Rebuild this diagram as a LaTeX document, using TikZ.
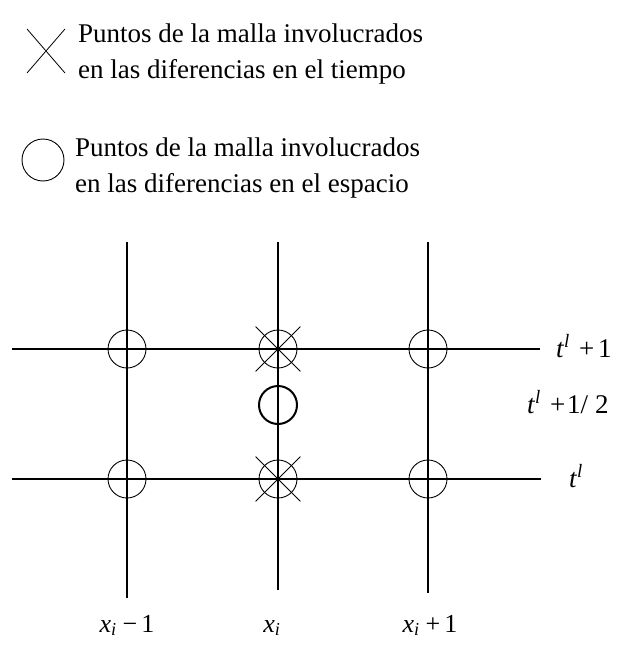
\documentclass[tikz,border=0pt]{standalone}
\usepackage{fontspec}
\setmainfont{Liberation Serif}
\usetikzlibrary{shapes.misc}
\begin{document}
\begin{tikzpicture}[x=1pt,y=-1pt,
  grid/.style={line width=1.4pt},
  pt/.style={circle,draw,line width=0.9pt,minimum size=38pt,inner sep=0pt},
  ptthick/.style={circle,draw,line width=2pt,minimum size=38pt,inner sep=0pt},
  xmark/.style={cross out,draw,line width=0.8pt,minimum size=44pt,inner sep=0pt},
  legtext/.style={anchor=west,align=left,font=\fontsize{27}{36}\selectfont,inner sep=0pt},
  lab/.style={font=\fontsize{26}{30}\selectfont,inner sep=0pt},
  rlab/.style={font=\fontsize{27}{30}\selectfont,inner sep=0pt,anchor=base west}]
\useasboundingbox (0,0) rectangle (619,645);
% legend
\node[cross out,draw,line width=0.8pt,minimum width=37pt,minimum height=43pt,inner sep=0pt] (legx) at (46,51) {};
\node[legtext] (legxt) at (78,54) {Puntos de la malla involucrados\\en las diferencias en el tiempo};
\node[circle,draw,line width=0.9pt,minimum size=42pt,inner sep=0pt] (lego) at (43,160) {};
\node[legtext] (legot) at (75,168) {Puntos de la malla involucrados\\en las diferencias en el espacio};
% grid coordinates
\coordinate (v1t) at (127,242); \coordinate (v1b) at (127,598);
\coordinate (v2t) at (278,242); \coordinate (v2b) at (278,590);
\coordinate (v3t) at (428,242); \coordinate (v3b) at (428,593);
\coordinate (h1l) at (12,349); \coordinate (h1r) at (540,349);
\coordinate (h2l) at (12,479); \coordinate (h2r) at (541,479);
\draw[grid] (v1t) -- (v1b);
\draw[grid] (v2t) -- (v2b);
\draw[grid] (v3t) -- (v3b);
\draw[grid] (h1l) -- (h1r);
\draw[grid] (h2l) -- (h2r);
% points
\node[pt] (a1) at (127,349) {};
\node[pt] (a2) at (278,349) {};
\node[xmark] (x2) at (278,349) {};
\node[pt] (a3) at (428,349) {};
\node[ptthick] (m) at (278,405) {};
\node[pt] (b1) at (127,479) {};
\node[pt] (b2) at (278,479) {};
\node[xmark] (y2) at (278,479) {};
\node[pt] (b3) at (428,479) {};
% labels
\node[rlab] (t1) at (556,357) {\textit{t}\textsuperscript{\textit{l}}\hspace{9pt}+\hspace{4pt}1};
\node[rlab] (th) at (527,413) {\textit{t}\textsuperscript{\textit{l}}\hspace{9pt}+\hspace{2pt}1/\hspace{7pt}2};
\node[rlab] (t0) at (569,487) {\textit{t}\textsuperscript{\textit{l}}};
\node[lab,anchor=base] (xm) at (127,632) {\textit{x}\textsubscript{\textit{i}}\hspace{6pt}−\hspace{4pt}1};
\node[lab,anchor=base] (x0) at (272,632) {\textit{x}\textsubscript{\textit{i}}};
\node[lab,anchor=base] (xp) at (430,632) {\textit{x}\textsubscript{\textit{i}}\hspace{6pt}+\hspace{4pt}1};
\end{tikzpicture}
\end{document}
